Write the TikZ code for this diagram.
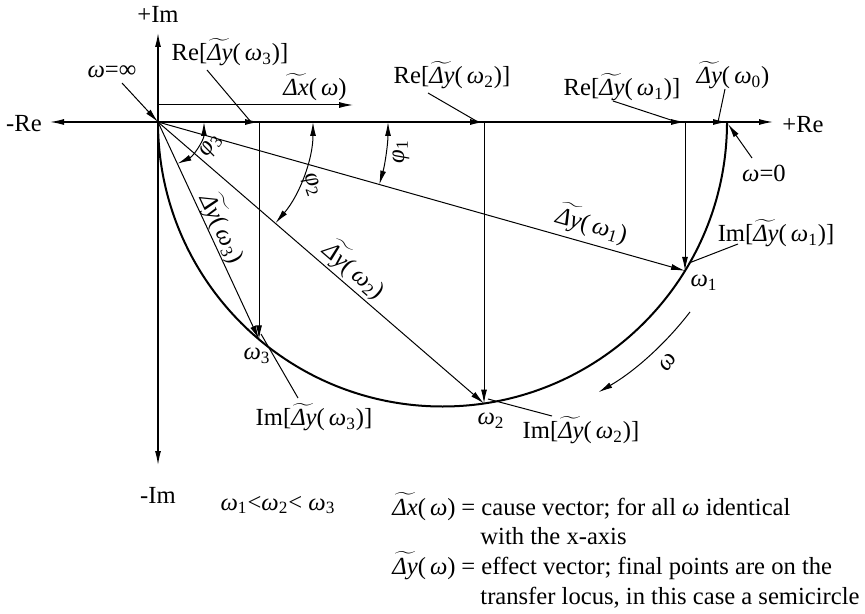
\documentclass[tikz,border=0pt]{standalone}
\usepackage{fontspec}
\setmainfont{Liberation Serif}
\usetikzlibrary{arrows.meta}
\newcommand\omg{\textit{ω}}
\newcommand\DYt{$\widetilde{\mbox{\itshape Δy}}$}
\newcommand\DXt{$\widetilde{\mbox{\itshape Δx}}$}
\begin{document}
\begin{tikzpicture}[x=0.5pt,y=-0.5pt,
  lbl/.style={font=\fontsize{12.3}{14.8}\selectfont, inner sep=0pt},
  axisline/.style={line width=0.6pt},
  thinline/.style={line width=0.5pt},
  locus/.style={line width=1pt},
  arr/.style={-{Latex[length=7pt,width=3pt]}},
  darr/.style={{Latex[length=7pt,width=3pt]}-{Latex[length=7pt,width=3pt]}}]
\useasboundingbox (0,0) rectangle (865,614);
% key points
\coordinate (O) at (158,122);
\coordinate (C) at (442.5,122);
\coordinate (W0) at (727,122);
\coordinate (W1) at (685,270.8);
\coordinate (W2) at (484,403.5);
\coordinate (W3) at (259,339.4);
\coordinate (R1) at (685,122);
\coordinate (R2) at (484,122);
\coordinate (R3) at (259,122);
\coordinate (ReL) at (50,122);
\coordinate (ReR) at (773,122);
\coordinate (ImT) at (158,33);
\coordinate (ImB) at (158,465);
% axes
\draw[axisline,darr] (ReL) -- (ReR);
\draw[axisline,darr] (ImT) -- (ImB);
\node[lbl] (plusIm) at (158,14) {+Im};
\node[lbl] (minusIm) at (158,495) {-Im};
\node[lbl] (minusRe) at (24,124) {-Re};
\node[lbl] (plusRe) at (803,125) {+Re};
% transfer locus
\draw[locus] (O) arc[start angle=180, end angle=0, radius=284.5];
% real parts on the axis
\draw[thinline,arr] (O) -- (R3);
\draw[thinline,arr] (O) -- (R2);
\draw[thinline,arr] (O) -- (R1);
\draw[thinline,arr] (O) -- (W0);
% imaginary parts
\draw[thinline,arr] (R3) -- (W3);
\draw[thinline,arr] (R2) -- (W2);
\draw[thinline,arr] (R1) -- (W1);
% effect vectors
\draw[thinline,arr] (O) -- (W1);
\draw[thinline,arr] (O) -- (W2);
\draw[thinline,arr] (O) -- (W3);
% cause vector
\coordinate (X0) at (158,105);
\coordinate (X1) at (353,105);
\draw[thinline,arr] (X0) -- (X1);
\node[lbl] (dxlbl) at (315,87) {\DXt(\,\omg)};
% angles
\coordinate (P3) at (204,122);
\coordinate (P2) at (313,122);
\coordinate (P1) at (388,122);
\draw[thinline,darr] (P3) arc[start angle=0, end angle=65, radius=46];
\draw[thinline,darr] (P2) arc[start angle=0, end angle=40.7, radius=155];
\draw[thinline,darr] (P1) arc[start angle=0, end angle=15.8, radius=230];
\node[lbl, rotate=55] (phi3) at (212,146) {\textit{φ}\textsubscript{3}};
\node[lbl, rotate=-70] (phi2) at (311,185) {\textit{φ}\textsubscript{2}};
\node[lbl, rotate=90] (phi1) at (401,152) {\textit{φ}\textsubscript{1}};
% vector labels
\node[lbl, rotate=-15.8] (dy1) at (592,224) {\DYt(\,\omg\textsubscript{1})};
\node[lbl, rotate=-40.7] (dy2) at (355,270) {\DYt(\,\omg\textsubscript{2})};
\node[lbl, rotate=-65] (dy3) at (223,228) {\DYt(\,\omg\textsubscript{3})};
% point labels
\node[lbl] (w1lbl) at (704,283) {\omg\textsubscript{1}};
\node[lbl] (w2lbl) at (491,421) {\omg\textsubscript{2}};
\node[lbl] (w3lbl) at (257,356) {\omg\textsubscript{3}};
% omega = infinity
\node[lbl] (winf) at (112,72) {\omg=∞};
\coordinate (winfL) at (122,83);
\draw[thinline,arr] (winfL) -- (O);
% omega = 0
\node[lbl] (wzero) at (764,173) {\omg=0};
\coordinate (wzeroL) at (752,158);
\coordinate (wzeroE) at (728,124);
\draw[thinline,arr] (wzeroL) -- (wzeroE);
% Re labels
\node[lbl] (re3) at (230,52) {Re[\DYt(\,\omg\textsubscript{3})]};
\coordinate (re3L) at (207,70);
\coordinate (re3E) at (251,122);
\draw[thinline] (re3L) -- (re3E);
\node[lbl] (re2) at (452,75) {Re[\DYt(\,\omg\textsubscript{2})]};
\coordinate (re2L) at (428,93);
\coordinate (re2E) at (478,122);
\draw[thinline] (re2L) -- (re2E);
\node[lbl] (re1) at (622,87) {Re[\DYt(\,\omg\textsubscript{1})]};
\coordinate (re1L) at (613,101);
\coordinate (re1E) at (677,122);
\draw[thinline] (re1L) -- (re1E);
\node[lbl] (dy0) at (733,75) {\DYt(\,\omg\textsubscript{0})};
\coordinate (dy0L) at (725,89);
\coordinate (dy0E) at (718,122);
\draw[thinline] (dy0L) -- (dy0E);
% Im labels
\node[lbl] (im1) at (776,233) {Im[\DYt(\,\omg\textsubscript{1})]};
\coordinate (im1L) at (738,244);
\coordinate (im1E) at (689,263);
\draw[thinline] (im1L) -- (im1E);
\node[lbl] (im2) at (581,430) {Im[\DYt(\,\omg\textsubscript{2})]};
\coordinate (im2L) at (552,416);
\coordinate (im2E) at (488,399);
\draw[thinline] (im2L) -- (im2E);
\node[lbl] (im3) at (314,417) {Im[\DYt(\,\omg\textsubscript{3})]};
\coordinate (im3L) at (298,398);
\coordinate (im3E) at (261,334);
\draw[thinline] (im3L) -- (im3E);
% direction of increasing omega
\draw[thinline,arr] ([shift={(37.5:312)}]C) arc[start angle=37.5, end angle=60, radius=312];
\node[lbl, rotate=55] (wdir) at (668,362) {\omg};
% legend
\node[lbl] (order) at (278,505) {\omg\textsubscript{1}<\omg\textsubscript{2}< \omg\textsubscript{3}};
\node[lbl, anchor=base east] (dxkey) at (456,515) {\DXt(\,\omg)};
\node[lbl, anchor=base west] (dxdef) at (461,515) {= cause vector; for all \omg\ identical};
\node[lbl, anchor=base west] (dxdef2) at (480,544) {with the x-axis};
\node[lbl, anchor=base east] (dykey) at (456,574) {\DYt(\,\omg)};
\node[lbl, anchor=base west] (dydef) at (461,574) {= effect vector; final points are on the};
\node[lbl, anchor=base west] (dydef2) at (480,604) {transfer locus, in this case a semicircle};
\end{tikzpicture}
\end{document}
